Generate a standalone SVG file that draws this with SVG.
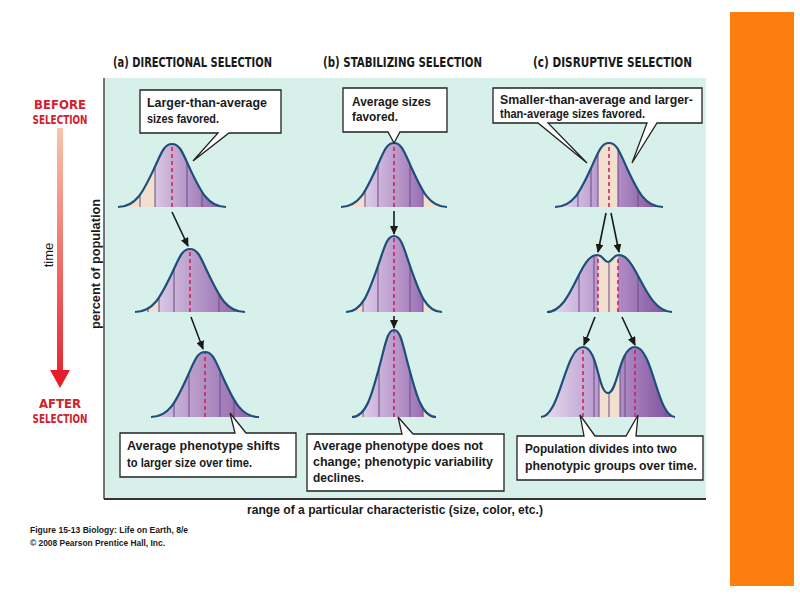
<svg xmlns="http://www.w3.org/2000/svg" xmlns:xlink="http://www.w3.org/1999/xlink" width="800" height="600" viewBox="0 0 800 600">
<style>
.hdr{font-family:"Liberation Sans Narrow","DejaVu Sans Condensed","Liberation Sans",sans-serif;font-weight:bold;font-size:13.5px;fill:#1a1a1a}
.t{font-family:"Liberation Sans","DejaVu Sans",sans-serif;font-weight:bold;font-size:13px;fill:#1a1a1a}
.red{font-family:"Liberation Sans Narrow","DejaVu Sans Condensed","Liberation Sans",sans-serif;font-weight:bold;font-size:13px;fill:#d4202a}
.ax{font-family:"Liberation Sans","DejaVu Sans",sans-serif;font-size:13px;fill:#1a1a1a}
.cap{font-family:"Liberation Sans","DejaVu Sans",sans-serif;font-weight:bold;font-size:8.5px;fill:#1a1a1a}
.box{fill:#fff;stroke:#222;stroke-width:1.3;stroke-linejoin:miter}
.curve{fill:none;stroke:#1d4f7a;stroke-width:2.2}
.div{fill:none;stroke:#6a4a86;stroke-width:1}
.dash{fill:none;stroke:#cc2458;stroke-width:1.6;stroke-dasharray:4 3}
.pe{fill:#f2dfd0}
.arr{fill:none;stroke:#1a1a1a;stroke-width:1.6}
</style>
<defs>
<linearGradient id="gA"><stop offset="0" stop-color="#d9c6e4"/><stop offset="1" stop-color="#8a5ba4"/></linearGradient>
<linearGradient id="gS"><stop offset="0" stop-color="#ddcbe7"/><stop offset="1" stop-color="#9b6fb4"/></linearGradient>
<linearGradient id="gL"><stop offset="0" stop-color="#ece3f2"/><stop offset="1" stop-color="#b899cd"/></linearGradient>
<linearGradient id="gD"><stop offset="0" stop-color="#b08dc6"/><stop offset="1" stop-color="#7c4a96"/></linearGradient>
<linearGradient id="gTime" gradientUnits="userSpaceOnUse" x1="0" y1="128" x2="0" y2="388"><stop offset="0" stop-color="#f8c4ae"/><stop offset="1" stop-color="#e61e28"/></linearGradient>
<marker id="ah" markerUnits="userSpaceOnUse" markerWidth="9" markerHeight="8" refX="8" refY="4" orient="auto"><path d="M0,0 L9,4 L0,8 Z" fill="#1a1a1a"/></marker>
<path id="c1a" d="M118,207 C136,207 143.2,191.7 154,168.8 C161.2,153.4 163.9,144 172,144 C180.1,144 182.8,153.4 190,168.8 C200.8,191.7 208,207 226,207"/>
<path id="c1b" d="M341,207 C358.7,207 365.7,191.4 376.3,168.2 C383.4,152.6 386,143 394,143 C402,143 404.6,152.6 411.7,168.2 C422.3,191.4 429.3,207 447,207"/>
<path id="c1c" d="M555,207 C573,207 580.2,191.4 591,168.2 C598.2,152.6 600.9,143 609,143 C617.1,143 619.8,152.6 627,168.2 C637.8,191.4 645,207 663,207"/>
<path id="c2a" d="M135,312 C153.3,312 160.7,296.7 171.7,273.8 C179,258.4 181.75,249 190,249 C198.25,249 201,258.4 208.3,273.8 C219.3,296.7 226.7,312 245,312"/>
<path id="c2b" d="M346,312 C362,312 368.4,293.5 378,265.9 C384.4,247.4 386.8,236 394,236 C401.2,236 403.6,247.4 410,265.9 C419.6,293.5 426,312 442,312"/>
<path id="c2c" d="M547,312 C572,312 579,255 597,255 C603,255 604,262 608,262 C612,262 613,255 619,255 C637,255 645,312 672,312"/>
<path id="c3a" d="M151,417 C169,417 176.2,401.2 187,377.5 C194.2,361.7 196.9,352 205,352 C213.1,352 215.8,361.7 223,377.5 C233.8,401.2 241,417 259,417"/>
<path id="c3b" d="M352,417 C366,417 371.6,395.9 380,364.2 C385.6,343 387.7,330 394,330 C400.3,330 402.4,343 408,364.2 C416.4,395.9 422,417 436,417"/>
<path id="c3c" d="M541,417 C560,417 565,347 583,347 C598,347 598,393 608,393 C618,393 619,347 635,347 C653,347 657,417 675,417"/>
<clipPath id="k1a"><use xlink:href="#c1a"/></clipPath>
<clipPath id="k1b"><use xlink:href="#c1b"/></clipPath>
<clipPath id="k1c"><use xlink:href="#c1c"/></clipPath>
<clipPath id="k2a"><use xlink:href="#c2a"/></clipPath>
<clipPath id="k2b"><use xlink:href="#c2b"/></clipPath>
<clipPath id="k2c"><use xlink:href="#c2c"/></clipPath>
<clipPath id="k3a"><use xlink:href="#c3a"/></clipPath>
<clipPath id="k3b"><use xlink:href="#c3b"/></clipPath>
<clipPath id="k3c"><use xlink:href="#c3c"/></clipPath>
</defs>

<rect width="800" height="600" fill="#ffffff"/>
<rect id="orange-bar" x="730" y="12" width="64" height="574" fill="#fd7e0f"/>

<g id="panel">
<rect x="104" y="78" width="602" height="421" fill="#d7f0e9"/>
<line x1="104" y1="78" x2="104" y2="499" stroke="#555" stroke-width="1.6"/>
<line x1="104" y1="499" x2="706" y2="499" stroke="#333" stroke-width="1.8"/>
</g>

<g id="headers">
<text class="hdr" x="113" y="67" textLength="159" lengthAdjust="spacingAndGlyphs">(a) DIRECTIONAL SELECTION</text>
<text class="hdr" x="323" y="67" textLength="159" lengthAdjust="spacingAndGlyphs">(b)  STABILIZING SELECTION</text>
<text class="hdr" x="533" y="67" textLength="159" lengthAdjust="spacingAndGlyphs">(c)  DISRUPTIVE SELECTION</text>
</g>

<g id="time-axis">
<text class="red" x="60" y="109" text-anchor="middle">BEFORE</text>
<text class="red" x="60" y="124" text-anchor="middle" textLength="55" lengthAdjust="spacingAndGlyphs">SELECTION</text>
<rect x="57" y="128" width="6" height="244" fill="url(#gTime)"/>
<polygon points="50,370 70,370 60,388" fill="#e61e28"/>
<text class="red" x="60" y="408" text-anchor="middle">AFTER</text>
<text class="red" x="60" y="423" text-anchor="middle" textLength="55" lengthAdjust="spacingAndGlyphs">SELECTION</text>
<text class="ax" transform="translate(53,255) rotate(-90)" text-anchor="middle">time</text>
<text class="t" transform="translate(100,264) rotate(-90)" text-anchor="middle" textLength="130" lengthAdjust="spacingAndGlyphs">percent of population</text>
</g>

<g id="curve-1a">
<g clip-path="url(#k1a)">
<rect class="pe" x="110" y="140" width="45" height="70"/>
<rect x="155" y="140" width="72" height="70" fill="url(#gA)"/>
<path class="div" d="M140,207V140M155,207V140M187,207V140M202,207V140"/>
<path class="dash" d="M172,207V145"/>
</g>
<use xlink:href="#c1a" class="curve"/>
</g>
<g id="curve-2a">
<g clip-path="url(#k2a)">
<rect class="pe" x="130" y="245" width="29" height="70"/>
<rect x="159" y="245" width="88" height="70" fill="url(#gA)"/>
<path class="div" d="M148,312V245M159,312V245M174,312V245M219,312V245"/>
<path class="dash" d="M190,312V250"/>
</g>
<use xlink:href="#c2a" class="curve"/>
</g>
<g id="curve-3a">
<g clip-path="url(#k3a)">
<rect x="150" y="348" width="110" height="72" fill="url(#gA)"/>
<path class="div" d="M174,417V350M189,417V350M220,417V350M234,417V350"/>
<path class="dash" d="M205,417V353"/>
</g>
<use xlink:href="#c3a" class="curve"/>
</g>

<g id="curve-1b">
<g clip-path="url(#k1b)">
<rect class="pe" x="338" y="140" width="27" height="70"/>
<rect x="365" y="140" width="58" height="70" fill="url(#gS)"/>
<rect class="pe" x="423" y="140" width="27" height="70"/>
<path class="div" d="M365,207V140M378,207V140M410,207V140M423,207V140"/>
<path class="dash" d="M394,207V144"/>
</g>
<use xlink:href="#c1b" class="curve"/>
</g>
<g id="curve-2b">
<g clip-path="url(#k2b)">
<rect class="pe" x="343" y="232" width="20" height="82"/>
<rect x="363" y="232" width="60" height="82" fill="url(#gS)"/>
<rect class="pe" x="423" y="232" width="22" height="82"/>
<path class="div" d="M363,312V232M378,312V232M410,312V232M423,312V232"/>
<path class="dash" d="M394,312V237"/>
</g>
<use xlink:href="#c2b" class="curve"/>
</g>
<g id="curve-3b">
<g clip-path="url(#k3b)">
<rect class="pe" x="350" y="326" width="13" height="93"/>
<rect x="363" y="326" width="60" height="93" fill="url(#gS)"/>
<rect class="pe" x="423" y="326" width="15" height="93"/>
<path class="div" d="M363,417V326M379,417V326M410,417V326M423,417V326"/>
<path class="dash" d="M394,417V331"/>
</g>
<use xlink:href="#c3b" class="curve"/>
</g>

<g id="curve-1c">
<g clip-path="url(#k1c)">
<rect x="552" y="140" width="46" height="70" fill="url(#gL)"/>
<rect class="pe" x="598" y="140" width="20" height="70"/>
<rect x="618" y="140" width="48" height="70" fill="url(#gD)"/>
<path class="div" d="M578,207V140M591,207V140M598,207V140M618,207V140M638,207V140"/>
<path class="dash" d="M609,207V144"/>
</g>
<use xlink:href="#c1c" class="curve"/>
</g>
<g id="curve-2c">
<g clip-path="url(#k2c)">
<rect x="545" y="250" width="53" height="64" fill="url(#gL)"/>
<rect class="pe" x="598" y="250" width="20" height="64"/>
<rect x="618" y="250" width="56" height="64" fill="url(#gD)"/>
<path class="div" d="M579,312V250M594,312V250M609,312V250M638,312V250"/>
<path class="dash" d="M598,312V256M618,312V256"/>
</g>
<use xlink:href="#c2c" class="curve"/>
</g>
<g id="curve-3c">
<g clip-path="url(#k3c)">
<rect x="538" y="343" width="61" height="76" fill="url(#gL)"/>
<rect class="pe" x="599" y="343" width="21" height="76"/>
<rect x="620" y="343" width="57" height="76" fill="url(#gD)"/>
<path class="div" d="M594,417V343M599,417V343M609,417V343M620,417V343M625,417V343"/>
<path class="dash" d="M583,417V348M635,417V348"/>
</g>
<use xlink:href="#c3c" class="curve"/>
</g>

<g id="connectors">
<line class="arr" x1="172" y1="212" x2="188" y2="246" marker-end="url(#ah)"/>
<line class="arr" x1="191" y1="317" x2="203" y2="349" marker-end="url(#ah)"/>
<line class="arr" x1="394" y1="211" x2="394" y2="234" marker-end="url(#ah)"/>
<line class="arr" x1="394" y1="316" x2="394" y2="328" marker-end="url(#ah)"/>
<line class="arr" x1="606" y1="213" x2="598" y2="252" marker-end="url(#ah)"/>
<line class="arr" x1="611" y1="213" x2="619" y2="252" marker-end="url(#ah)"/>
<line class="arr" x1="595" y1="317" x2="584" y2="345" marker-end="url(#ah)"/>
<line class="arr" x1="622" y1="317" x2="635" y2="345" marker-end="url(#ah)"/>
</g>

<g id="callout-a-top">
<path class="box" d="M140,90 H281 V133 H229 L193,161 L218,133 H140 Z"/>
<text class="t" x="147" y="107" textLength="120" lengthAdjust="spacingAndGlyphs">Larger-than-average</text>
<text class="t" x="147" y="123" textLength="72" lengthAdjust="spacingAndGlyphs">sizes favored.</text>
</g>
<g id="callout-b-top">
<path class="box" d="M343,88 H447 V132 H400 L394,143 L388,132 H343 Z"/>
<text class="t" x="352" y="106" textLength="79" lengthAdjust="spacingAndGlyphs">Average sizes</text>
<text class="t" x="352" y="121" textLength="46" lengthAdjust="spacingAndGlyphs">favored.</text>
</g>
<g id="callout-c-top">
<path class="box" d="M493,88 H702 V123 H657 L632,163 L647,123 H548 L587,163 L538,123 H493 Z"/>
<text class="t" x="500" y="104" textLength="193" lengthAdjust="spacingAndGlyphs">Smaller-than-average and larger-</text>
<text class="t" x="500" y="118" textLength="145" lengthAdjust="spacingAndGlyphs">than-average sizes favored.</text>
</g>

<g id="callout-a-bottom">
<path class="box" d="M120,433 H235 L230,413 L246,433 H296 V477 H120 Z"/>
<text class="t" x="127" y="450" textLength="153" lengthAdjust="spacingAndGlyphs">Average phenotype shifts</text>
<text class="t" x="127" y="467" textLength="125" lengthAdjust="spacingAndGlyphs">to larger size over time.</text>
</g>
<g id="callout-b-bottom">
<path class="box" d="M307,434 H402 L398,417 L413,434 H504 V491 H307 Z"/>
<text class="t" x="313" y="450" textLength="170" lengthAdjust="spacingAndGlyphs">Average phenotype does not</text>
<text class="t" x="313" y="466" textLength="180" lengthAdjust="spacingAndGlyphs">change; phenotypic variability</text>
<text class="t" x="313" y="482" textLength="51" lengthAdjust="spacingAndGlyphs">declines.</text>
</g>
<g id="callout-c-bottom">
<path class="box" d="M517,436 H584 L580,415 L595,436 H626 L638,415 L636,436 H703 V480 H517 Z"/>
<text class="t" x="525" y="453" textLength="152" lengthAdjust="spacingAndGlyphs">Population divides into two</text>
<text class="t" x="525" y="470" textLength="172" lengthAdjust="spacingAndGlyphs">phenotypic groups over time.</text>
</g>

<g id="x-axis-label">
<text class="t" x="247" y="514" textLength="296" lengthAdjust="spacingAndGlyphs">range of a particular characteristic (size, color, etc.)</text>
</g>
<g id="caption">
<text class="cap" x="30" y="533" textLength="158" lengthAdjust="spacingAndGlyphs">Figure 15-13  Biology: Life on Earth, 8/e</text>
<text class="cap" x="30" y="546" textLength="135" lengthAdjust="spacingAndGlyphs">© 2008 Pearson Prentice Hall, Inc.</text>
</g>
</svg>
